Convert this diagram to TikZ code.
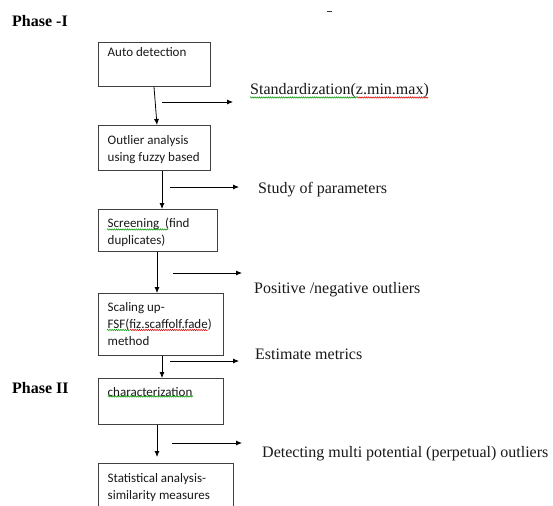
\documentclass[tikz,border=0pt]{standalone}
\usepackage{fontspec}
\setmainfont{Liberation Serif}
\newfontfamily\boxfont{Carlito}
\usetikzlibrary{arrows.meta,decorations.pathmorphing}
\newcommand\boxtxt[1]{\parbox[t]{140pt}{\raggedright #1}}
\begin{document}
\begin{tikzpicture}[x=1pt,y=-1pt,
  flowbox/.style={draw=black!75, line width=0.9pt, anchor=north west, inner sep=0pt},
  boxtext/.style={anchor=base west, inner sep=0pt, text=black!90, font=\boxfont\fontsize{13}{16.8}\selectfont},
  sidelabel/.style={anchor=base west, inner sep=0pt, text=black!90, font=\fontsize{16}{19}\selectfont},
  phase/.style={anchor=base west, inner sep=0pt, font=\bfseries\fontsize{16}{19}\selectfont},
  flow/.style={draw=black, line width=0.8pt, -{Latex[length=6pt,width=5pt]}},
  spellg/.style={draw=green!60!black, line width=0.5pt, decorate, decoration={snake, amplitude=0.7pt, segment length=2.2pt}},
  spellr/.style={draw=red!85!black, line width=0.5pt, decorate, decoration={snake, amplitude=0.7pt, segment length=2.2pt}}
]
\useasboundingbox (0,0) rectangle (553,505);
\clip (0,0) rectangle (553,505);
\fill[white] (0,0) rectangle (553,505);

% phase labels and top dash
\node[phase] (p1) at (12,27) {Phase -I};
\node[phase] (p2) at (12,393) {Phase II};
\draw[black!80, line width=1pt] (327,12) -- (332,12);

% boxes
\node[flowbox, minimum width=112pt, minimum height=44pt] (b1) at (98,42) {};
\node[flowbox, minimum width=112pt, minimum height=45pt] (b2) at (98,125) {};
\node[flowbox, minimum width=119pt, minimum height=42pt] (b3) at (98,209) {};
\node[flowbox, minimum width=125pt, minimum height=62pt] (b4) at (98,293) {};
\node[flowbox, minimum width=125pt, minimum height=46pt] (b5) at (98,378) {};
\node[flowbox, minimum width=135pt, minimum height=60pt] (b6) at (98,463) {};

% box texts
\node[boxtext] (t1) at ([xshift=9.5pt,yshift=-15pt]b1.north west) {\boxtxt{Auto detection}};
\node[boxtext] (t2) at ([xshift=9.5pt,yshift=-19.5pt]b2.north west) {\boxtxt{Outlier analysis\\using fuzzy based}};
\node[boxtext] (t3) at ([xshift=9.5pt,yshift=-18.5pt]b3.north west) {\boxtxt{Screening\ \ (find\\duplicates)}};
\node[boxtext] (t4) at ([xshift=9.5pt,yshift=-18.5pt]b4.north west) {\boxtxt{Scaling up-\\FSF(fiz.scaffolf.fade)\\method}};
\node[boxtext] (t5) at ([xshift=9.5pt,yshift=-18.5pt]b5.north west) {\boxtxt{characterization}};
\node[boxtext] (t6) at ([xshift=9.5pt,yshift=-19.5pt]b6.north west) {\boxtxt{Statistical analysis-\\similarity measures}};

% spelling underlines in boxes
\draw[spellg] (107,229.5) -- (168,229.5);
\draw[spellg] (107,330) -- (130,330);
\draw[spellr] (130,330) -- (208,330);
\draw[spellg] (108,396.5) -- (193,396.5);

% vertical connectors
\draw[flow] ([xshift=56pt]b1.south west) -- ([xshift=59pt]b2.north west);
\draw[flow] ([xshift=64pt]b2.south west) -- ([xshift=64pt]b3.north west);
\draw[flow] ([xshift=59pt]b3.south west) -- ([xshift=59pt]b4.north west);
\draw[flow] ([xshift=64pt]b4.south west) -- ([xshift=64pt]b5.north west);
\draw[flow, shorten >=6pt] ([xshift=59pt]b5.south west) -- ([xshift=59pt]b6.north west);

% side arrows
\coordinate (s1a) at (162,102); \coordinate (s1b) at (233,102);
\coordinate (s2a) at (170,187); \coordinate (s2b) at (239,187);
\coordinate (s3a) at (173,273); \coordinate (s3b) at (242,273);
\coordinate (s4a) at (170,361); \coordinate (s4b) at (239,361);
\coordinate (s5a) at (172,443); \coordinate (s5b) at (242,443);
\draw[flow] (s1a) -- (s1b);
\draw[flow] (s2a) -- (s2b);
\draw[flow] (s3a) -- (s3b);
\draw[flow] (s4a) -- (s4b);
\draw[flow] (s5a) -- (s5b);

% side labels
\node[sidelabel] (l1) at (250,95) {Standardization(z.min.max)};
\node[sidelabel] (l2) at (258,193) {Study of parameters};
\node[sidelabel] (l3) at (254,293) {Positive /negative outliers};
\node[sidelabel] (l4) at (255,359) {Estimate metrics};
\node[sidelabel] (l5) at (262,457) {Detecting multi potential (perpetual) outliers};

\draw[spellg] (250,97.5) -- (357,97.5);
\draw[spellr] (357,97.5) -- (428,97.5);
\end{tikzpicture}
\end{document}
